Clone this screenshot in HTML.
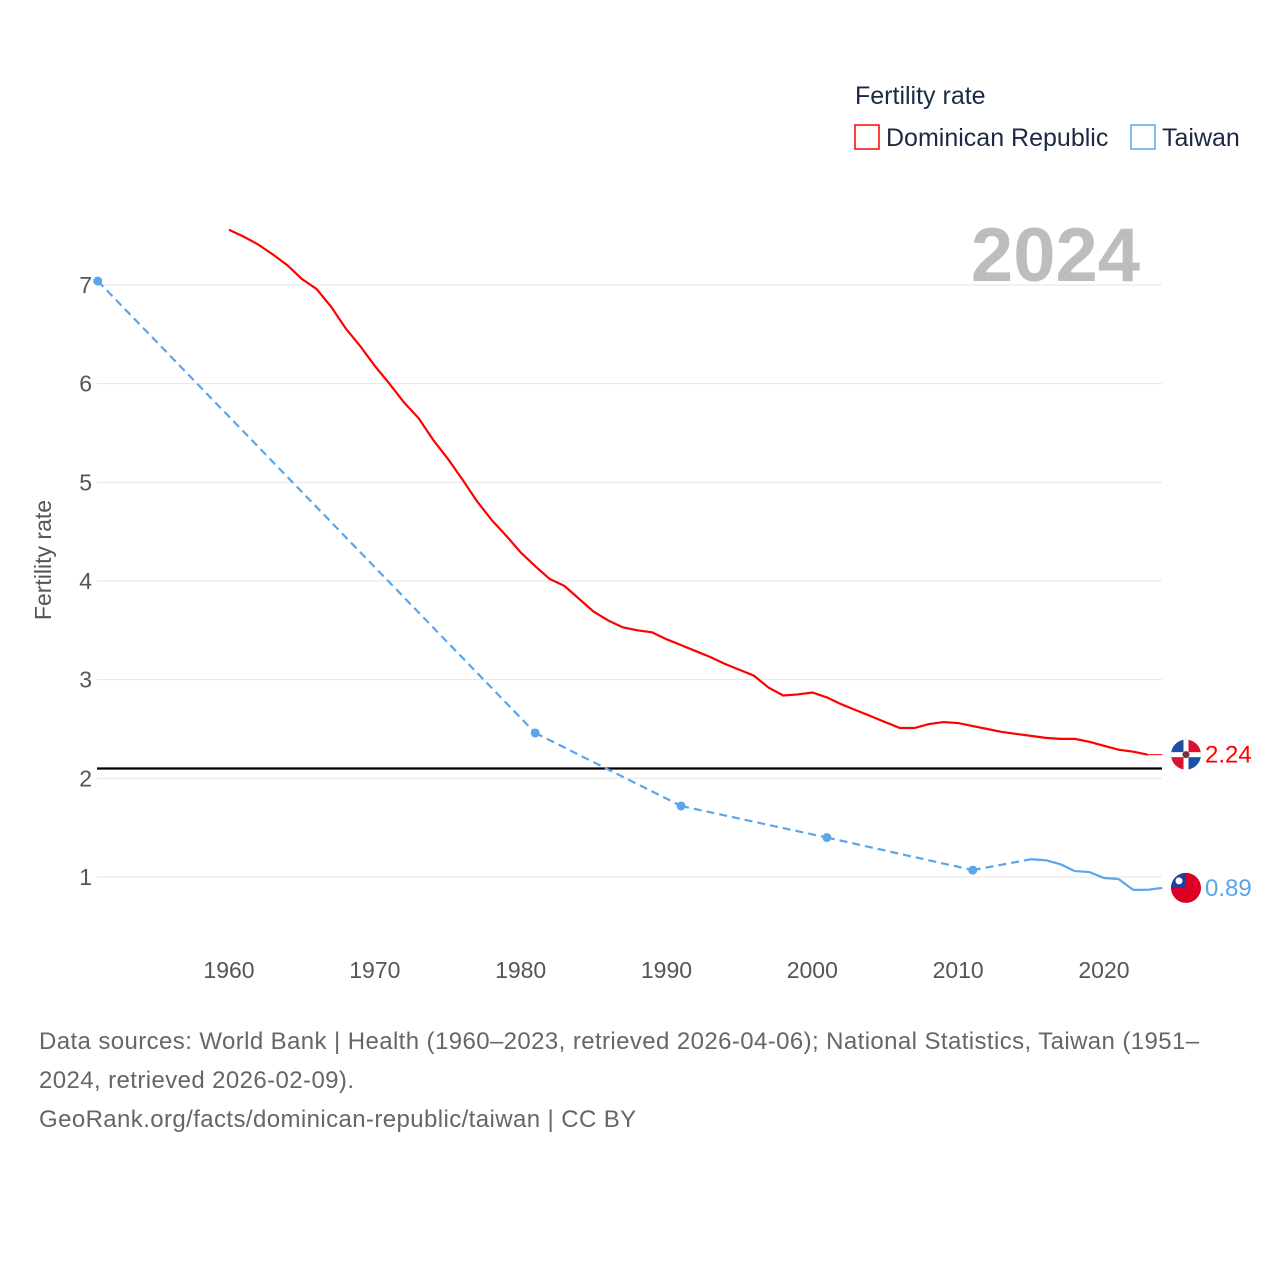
<!DOCTYPE html>
<html><head><meta charset="utf-8">
<style>
body{margin:0;background:#fff;font-family:"Liberation Sans",sans-serif;}
#wrap{position:relative;width:1280px;height:1280px;overflow:hidden;}
svg text{font-family:"Liberation Sans",sans-serif;}
</style></head>
<body>
<div id="wrap">
<svg id="chart" width="1280" height="1280">
  <text x="855" y="104" font-size="25" fill="#1a2a44">Fertility rate</text>
  <g>
    <rect x="855" y="125" width="24" height="24" fill="none" stroke="#f00" stroke-width="1.5"/>
    <text x="886" y="146" font-size="25" fill="#1a2a44">Dominican Republic</text>
  </g>
  <g>
    <rect x="1131" y="125" width="24" height="24" fill="none" stroke="#5aa5ec" stroke-width="1.5"/>
    <text x="1162" y="146" font-size="25" fill="#1a2a44">Taiwan</text>
  </g>
  <text x="1140" y="281" font-size="76" font-weight="bold" fill="#bdbdbd" text-anchor="end">2024</text>
  <text transform="translate(51,560) rotate(-90)" font-size="23" fill="#555" text-anchor="middle">Fertility rate</text>
  <g id="grid"></g><g id="marks"></g>
</svg>
<div style="position:absolute;left:39px;top:1022px;width:1210px;font-size:24px;letter-spacing:0.4px;line-height:39px;color:#666;">Data sources: World Bank | Health (1960–2023, retrieved 2026-04-06); National Statistics, Taiwan (1951–2024, retrieved 2026-02-09).<br>GeoRank.org/facts/dominican-republic/taiwan | CC BY</div>
</div>
<script>
const yTicks=[1,2,3,4,5,6,7];
const xTicks=[1960,1970,1980,1990,2000,2010,2020];
const drYears=[];for(let y=1960;y<=2023;y++)drYears.push(y);
const drValues=[7.56,7.49,7.41,7.31,7.20,7.06,6.96,6.78,6.56,6.38,6.18,6.0,5.81,5.65,5.43,5.24,5.03,4.81,4.62,4.46,4.29,4.15,4.02,3.95,3.82,3.69,3.60,3.53,3.50,3.48,3.41,3.35,3.29,3.23,3.16,3.10,3.04,2.92,2.84,2.85,2.87,2.82,2.75,2.69,2.63,2.57,2.51,2.51,2.55,2.57,2.56,2.53,2.50,2.47,2.45,2.43,2.41,2.40,2.40,2.37,2.33,2.29,2.27,2.24];
const twYears=[1951,1981,1991,2001,2011,2015,2016,2017,2018,2019,2020,2021,2022,2023,2024];
const twValues=[7.04,2.46,1.72,1.40,1.07,1.18,1.17,1.13,1.06,1.05,0.99,0.98,0.87,0.87,0.89];
const refValue=2.1;
const NS="http://www.w3.org/2000/svg";
const X=yr=>229+(yr-1960)*14.583;
const Y=v=>877-(v-1)*98.67;
function mk(tag,attrs,parent){const e=document.createElementNS(NS,tag);for(const k in attrs)e.setAttribute(k,attrs[k]);parent.appendChild(e);return e;}
const grid=document.getElementById('grid'),marks=document.getElementById('marks');
yTicks.forEach(t=>{
  const l=mk('line',{x1:97,x2:1162,y1:Y(t),y2:Y(t),stroke:'#e6e6e6','stroke-width':1},grid);
  
  
  const tx=mk('text',{x:92,y:Y(t)+8,'font-size':23,fill:'#555','text-anchor':'end'},grid);
  tx.textContent=t;
  
  
});
xTicks.forEach(t=>{
  const tx=mk('text',{x:X(t),y:978,'font-size':23,fill:'#555','text-anchor':'middle'},grid);
  tx.textContent=t;
  
  
});
const ref=mk('line',{x1:97,x2:1162,y1:Y(refValue),y2:Y(refValue),stroke:'#000','stroke-width':2.2},marks);


const drPath=mk('path',{d:drYears.map((y,i)=>(i?'L':'M')+X(y)+','+Y(drValues[i])).join(''),fill:'none',stroke:'#f00','stroke-width':2.2},marks);


const drLast=drValues[drValues.length-1];
const drExt=mk('line',{x1:X(drYears[drYears.length-1]),x2:X(2024),y1:Y(drLast),y2:Y(drLast),stroke:'#f00','stroke-width':1},marks);


for(let i=1;i<twYears.length;i++){
  const gap=twYears[i]-twYears[i-1]>1;
  const seg=mk('line',{x1:X(twYears[i-1]),y1:Y(twValues[i-1]),x2:X(twYears[i]),y2:Y(twValues[i]),stroke:'#5aa5ec','stroke-width':2.2,'stroke-dasharray':gap?'8,5':'none'},marks);
  
  
}
for(let i=0;i<twYears.length;i++){
  const prevGap=i>0&&twYears[i]-twYears[i-1]>1, nextGap=i<twYears.length-1&&twYears[i+1]-twYears[i]>1;
  if((prevGap&&nextGap)||i===0){
    const c=mk('circle',{cx:X(twYears[i]),cy:Y(twValues[i]),r:4.5,fill:'#5aa5ec'},marks);
    
    
  }
}
function flagDR(cx,cy){
  const g=mk('g',{},marks);
  
  
  const cp=mk('clipPath',{id:'cdr'},g);
  mk('circle',{cx:cx,cy:cy,r:15},cp);
  const h=mk('g',{'clip-path':'url(#cdr)'},g);
  mk('rect',{x:cx-15,y:cy-15,width:15,height:15,fill:'#1d4fa3'},h);
  mk('rect',{x:cx,y:cy-15,width:15,height:15,fill:'#d9122e'},h);
  mk('rect',{x:cx-15,y:cy,width:15,height:15,fill:'#d9122e'},h);
  mk('rect',{x:cx,y:cy,width:15,height:15,fill:'#1d4fa3'},h);
  mk('rect',{x:cx-2.5,y:cy-15,width:5,height:30,fill:'#fff'},h);
  mk('rect',{x:cx-15,y:cy-2.5,width:30,height:5,fill:'#fff'},h);
  mk('circle',{cx:cx,cy:cy,r:3.5,fill:'#7a3040'},h);
}
function flagTW(cx,cy){
  const g=mk('g',{},marks);
  
  
  mk('circle',{cx:cx,cy:cy,r:15,fill:'#de0024'},g);
  mk('path',{d:`M${cx-15},${cy} A15,15 0 0 1 ${cx},${cy-15} L${cx},${cy} Z`,fill:'#1f3f9e'},g);
  mk('circle',{cx:cx-7,cy:cy-7,r:3.5,fill:'#fff'},g);
}
flagDR(1186,Y(drLast));
flagTW(1186,Y(twValues[twValues.length-1]));
const l1=mk('text',{x:1205,y:Y(drLast)+8,'font-size':24,fill:'#f00'},marks);
l1.textContent=drLast.toFixed(2);


const l2=mk('text',{x:1205,y:Y(twValues[twValues.length-1])+8,'font-size':24,fill:'#5aa5ec'},marks);
l2.textContent=twValues[twValues.length-1].toFixed(2);


</script>
</body></html>
